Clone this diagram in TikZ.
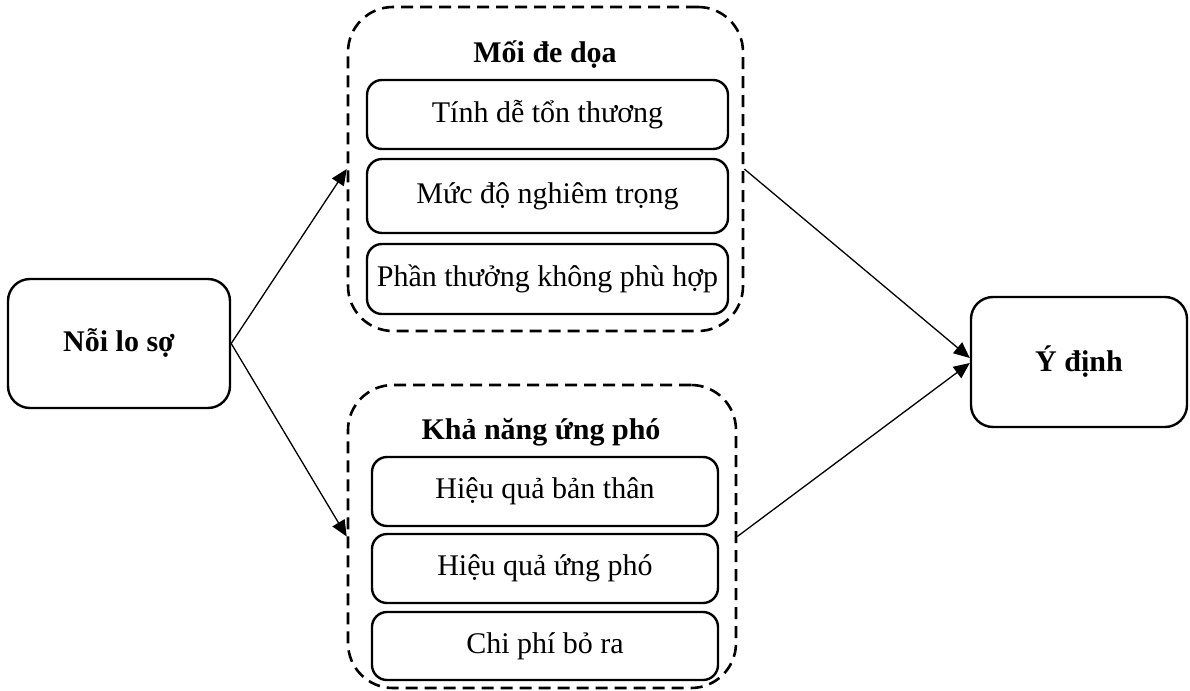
\documentclass[tikz,border=0pt]{standalone}
\usepackage{fontspec}
\setmainfont{Liberation Serif}
\usetikzlibrary{arrows.meta}
\begin{document}
\begin{tikzpicture}[x=1pt,y=-1pt,
  txt/.style={font=\fontsize{30}{36}\selectfont},
  btxt/.style={font=\fontsize{30}{36}\selectfont\bfseries},
  item/.style={draw, line width=2.4pt, rounded corners=15pt, inner sep=0pt, txt},
  mainbox/.style={draw, line width=2.4pt, rounded corners=22pt, inner sep=0pt, btxt},
  group/.style={draw, line width=2.6pt, dash pattern=on 12pt off 7pt, rounded corners=45pt, inner sep=0pt},
  arr/.style={line width=1.3pt, -{Triangle[length=16pt,width=14pt]}}]
\useasboundingbox (0,0) rectangle (1190,690);
% left and right boxes
\node[mainbox, minimum width=222pt, minimum height=129pt] (nlo) at (119,343.5) {Nỗi lo sợ};
\node[mainbox, minimum width=216pt, minimum height=130pt] (yd) at (1079,362) {Ý định};
% upper group
\node[group, minimum width=395pt, minimum height=324pt] (up) at (545.5,169) {};
\node[btxt] (t1) at (545,55) {Mối đe dọa};
\node[item, minimum width=361pt, minimum height=69pt] (u1) at (547.5,114.5) {Tính dễ tổn thương};
\node[item, minimum width=361pt, minimum height=74pt] (u2) at (547.5,196) {Mức độ nghiêm trọng};
\node[item, minimum width=361pt, minimum height=70pt] (u3) at (547.5,279) {Phần thưởng không phù hợp};
% lower group
\node[group, minimum width=388pt, minimum height=303pt] (lo) at (542,536.5) {};
\node[btxt] (t2) at (541,432) {Khả năng ứng phó};
\node[item, minimum width=346pt, minimum height=69pt] (l1) at (545,491.5) {Hiệu quả bản thân};
\node[item, minimum width=346pt, minimum height=69pt] (l2) at (545,568.5) {Hiệu quả ứng phó};
\node[item, minimum width=346pt, minimum height=68pt] (l3) at (545,646) {Chi phí bỏ ra};
% arrows
\draw[arr] (nlo.east) -- (up.west);
\draw[arr] (nlo.east) -- (lo.west);
\draw[arr] (up.east) -- ([yshift=4pt]yd.west);
\draw[arr] (lo.east) -- ([yshift=-1pt]yd.west);
\end{tikzpicture}
\end{document}
